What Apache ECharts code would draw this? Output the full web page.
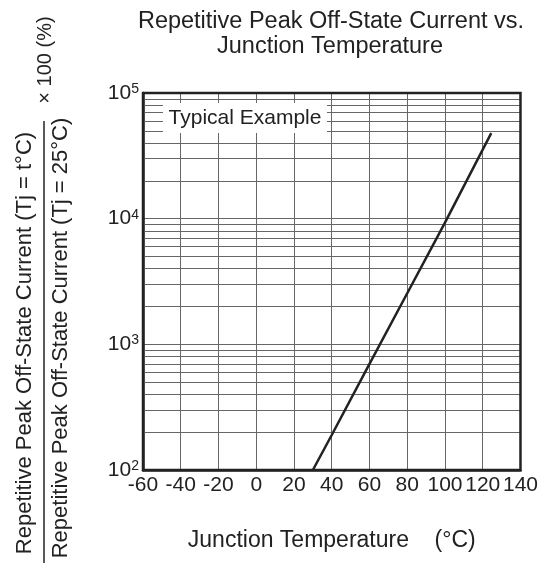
<!DOCTYPE html>
<html>
<head>
<meta charset="utf-8">
<script src="https://cdn.jsdelivr.net/npm/echarts@6/dist/echarts.min.js"></script>
<style>
html,body{margin:0;padding:0;background:#fff;}
#c{width:541px;height:563px;}
</style>
</head>
<body>
<div id="c"></div>
<script>
// Data
const temperature = [30, 40, 60, 80, 100, 124.5];
const currentRatio = [100, 190, 700, 2550, 9300, 48000];
const xTickLabels = ['-60', '-40', '-20', '0', '20', '40', '60', '80', '100', '120', '140'];
const yTickValues = [100, 1000, 10000, 100000];
const yTickExponents = ['2', '3', '4', '5'];
const yMinorGrid = [200, 300, 400, 500, 600, 700, 800, 900,
                    2000, 3000, 4000, 5000, 6000, 7000, 8000, 9000,
                    20000, 30000, 40000, 50000, 60000, 70000, 80000, 90000];
const titleLines = ['Repetitive Peak Off-State Current vs.', 'Junction Temperature'];
const xAxisName = 'Junction Temperature    (°C)';
const yNumerator = 'Repetitive Peak Off-State Current (Tj = t°C)';
const yDenominator = 'Repetitive Peak Off-State Current (Tj = 25°C)';
const yFactor = '× 100 (%)';
const noteText = 'Typical Example';

const FONT = "'Liberation Sans', Arial, Helvetica, sans-serif";
const chart = echarts.init(document.getElementById('c'), null, {renderer: 'canvas'});

const gridColor = '#666';
const option = {
  backgroundColor: '#fff',
  animation: false,
  textStyle: {fontFamily: FONT},
  grid: {left: 143, right: 20, top: 93, bottom: 93, show: true, borderColor: '#222', borderWidth: 2.5, backgroundColor: 'transparent', z: 10},
  xAxis: {
    type: 'value', min: -60, max: 140, interval: 20,
    axisLine: {show: true, onZero: false, lineStyle: {color: '#222', width: 2.5}},
    axisTick: {show: false},
    axisLabel: {
      margin: 5, fontSize: 21, color: '#222', fontFamily: FONT,
      formatter: v => xTickLabels[Math.round((v + 60) / 20)]
    },
    splitLine: {show: true, lineStyle: {color: gridColor, width: 1}},
    name: xAxisName, nameLocation: 'middle', nameGap: 59,
    nameTextStyle: {fontSize: 23, color: '#222', fontFamily: FONT}
  },
  yAxis: {
    type: 'log', logBase: 10, min: 100, max: 100000,
    axisLine: {show: true, onZero: false, lineStyle: {color: '#222', width: 2.5}},
    axisTick: {show: false},
    axisLabel: {
      margin: 4, color: '#222', fontFamily: FONT,
      formatter: v => {
        const i = yTickValues.findIndex(t => Math.abs(t - v) / t < 1e-6);
        return i < 0 ? '' : '{b|10}{s|' + yTickExponents[i] + '}';
      },
      rich: {
        b: {fontSize: 21, fontFamily: FONT, color: '#222'},
        s: {fontSize: 14, fontFamily: FONT, color: '#222', verticalAlign: 'top', padding: [0, 0, 8, 0]}
      }
    },
    splitLine: {show: true, lineStyle: {color: gridColor, width: 1}}
  },
  series: [
    {
      type: 'line',
      data: [],
      silent: true,
      markLine: {
        silent: true, symbol: 'none', animation: false,
        label: {show: false},
        lineStyle: {color: gridColor, width: 1, type: 'solid'},
        data: yMinorGrid.map(v => ({yAxis: v}))
      },
      z: 1
    },
    {
      type: 'line',
      data: temperature.map((t, i) => [t, currentRatio[i]]),
      showSymbol: false, smooth: false,
      lineStyle: {color: '#222', width: 2.5},
      z: 5
    }
  ],
  graphic: [
    {type: 'rect', left: 163, top: 103, shape: {width: 164, height: 30}, style: {fill: '#fff'}, z: 100},
    {type: 'text', x: 245, y: 118, style: {text: noteText, font: '21px ' + FONT, fill: '#222', textAlign: 'center', textVerticalAlign: 'middle'}, z: 101},
    {type: 'text', x: 331, y: 22, style: {text: titleLines[0], font: '23.5px ' + FONT, fill: '#222', textAlign: 'center', textVerticalAlign: 'middle'}, z: 101},
    {type: 'text', x: 330, y: 47, style: {text: titleLines[1], font: '23.5px ' + FONT, fill: '#222', textAlign: 'center', textVerticalAlign: 'middle'}, z: 101},
    {type: 'text', x: 25, y: 343, rotation: Math.PI / 2, style: {text: yNumerator, font: '22px ' + FONT, fill: '#222', textAlign: 'center', textVerticalAlign: 'middle'}, z: 101},
    {type: 'line', shape: {x1: 44, y1: 121, x2: 44, y2: 563}, style: {stroke: '#222', lineWidth: 1.5}, z: 101},
    {type: 'text', x: 61, y: 338, rotation: Math.PI / 2, style: {text: yDenominator, font: '22px ' + FONT, fill: '#222', textAlign: 'center', textVerticalAlign: 'middle'}, z: 101},
    {type: 'text', x: 45, y: 60, rotation: Math.PI / 2, style: {text: yFactor, font: '20px ' + FONT, fill: '#222', textAlign: 'center', textVerticalAlign: 'middle'}, z: 101}
  ]
};
chart.setOption(option);
</script>
</body>
</html>
